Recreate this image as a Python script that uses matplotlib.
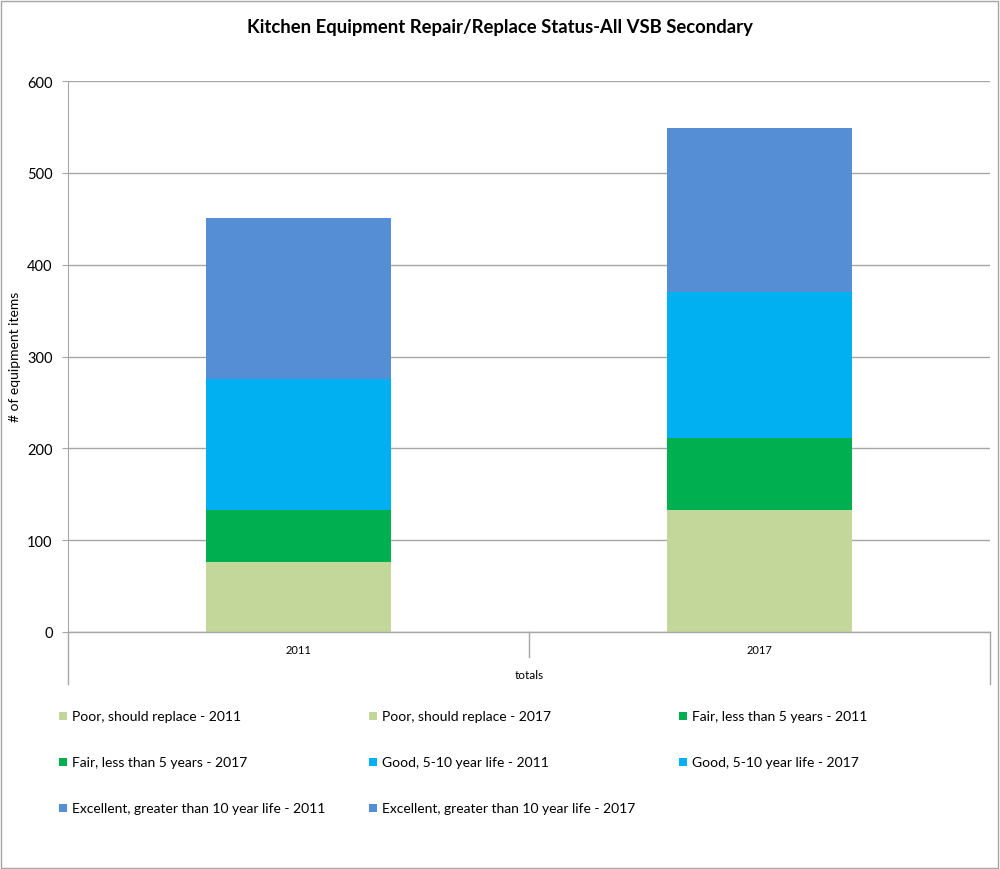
import matplotlib
matplotlib.use("Agg")
import matplotlib.pyplot as plt
from matplotlib.patches import Rectangle

plt.rcParams['font.family'] = ['Lato', 'DejaVu Sans']

years = ["2011", "2017"]
categories = ["Poor, should replace", "Fair, less than 5 years",
              "Good, 5-10 year life", "Excellent, greater than 10 year life"]
poor = [76, 133]
fair = [57, 78]
good = [143, 159]
excellent = [175, 179]
colors = ["#C4D79B", "#00B050", "#00B0F0", "#558ED5"]
yticks = [0, 100, 200, 300, 400, 500, 600]

W, H = 1000, 870
fig = plt.figure(figsize=(W / 100, H / 100), dpi=100)
ax = fig.add_axes([68 / W, 1 - 633 / H, 922 / W, 551 / H])

x = list(range(len(years)))
series = [poor, fair, good, excellent]
bottoms = [0] * len(years)
for vals, col in zip(series, colors):
    ax.bar(x, vals, width=0.4, bottom=bottoms, color=col, zorder=3)
    bottoms = [b + v for b, v in zip(bottoms, vals)]

ax.set_xlim(-0.5, 1.5)
ax.set_ylim(0, 600)
ax.set_yticks(yticks)
ax.set_yticklabels([str(t) for t in yticks], fontsize=10.5)
ax.yaxis.grid(True, color="#a6a6a6", linewidth=1, zorder=0)
ax.set_axisbelow(True)
for s in ["top", "right", "bottom"]:
    ax.spines[s].set_visible(False)
ax.spines["left"].set_color("#a6a6a6")
ax.tick_params(axis="y", length=4, color="#a6a6a6", pad=7)
ax.set_xticks(x)
ax.set_xticklabels(years, fontsize=8)
ax.tick_params(axis="x", length=0, pad=9)

fig.text(15 / W, 1 - 357 / H, "# of equipment items", rotation=90,
         ha="center", va="center", fontsize=10)

# category axis separators (multi-level)
trans = ax.get_xaxis_transform()
px = 1 / 551.0
ax.plot([-0.5, 1.5], [0, 0], color="#a6a6a6", lw=1, transform=trans, clip_on=False, zorder=4)
ax.plot([0.5, 0.5], [0, -25 * px], color="#a6a6a6", lw=1, transform=trans, clip_on=False)
for xs in (-0.5, 1.5):
    ax.plot([xs, xs], [0, -52 * px], color="#a6a6a6", lw=1, transform=trans, clip_on=False)
ax.text(0.5, -43 * px, "totals", transform=trans, ha="center", va="center", fontsize=8.5)

fig.text(0.5, 1 - 28 / H, "Kitchen Equipment Repair/Replace Status-All VSB Secondary",
         ha="center", va="center", fontsize=13.3, fontweight="bold")

# legend (row-major, 3 columns)
entries = []
for cat, col in zip(categories, colors):
    for yr in years:
        entries.append((f"{cat} - {yr}", col))
col_x = [59, 369, 679]
row_y = [717, 763, 809]
for i, (lab, col) in enumerate(entries):
    r, c = divmod(i, 3)
    mx, my = col_x[c], row_y[r]
    fig.patches.append(Rectangle((mx / W, 1 - (my + 4) / H), 8 / W, 8 / H,
                                 transform=fig.transFigure, facecolor=col, edgecolor="none"))
    fig.text((mx + 13) / W, 1 - my / H, lab, ha="left", va="center", fontsize=10)

# outer border
fig.patches.append(Rectangle((1 / W, 1 / H), (W - 3) / W, (H - 3) / H, transform=fig.transFigure,
                             facecolor="none", edgecolor="#a6a6a6", lw=1))

fig.savefig("out.png", dpi=100, facecolor="white")
